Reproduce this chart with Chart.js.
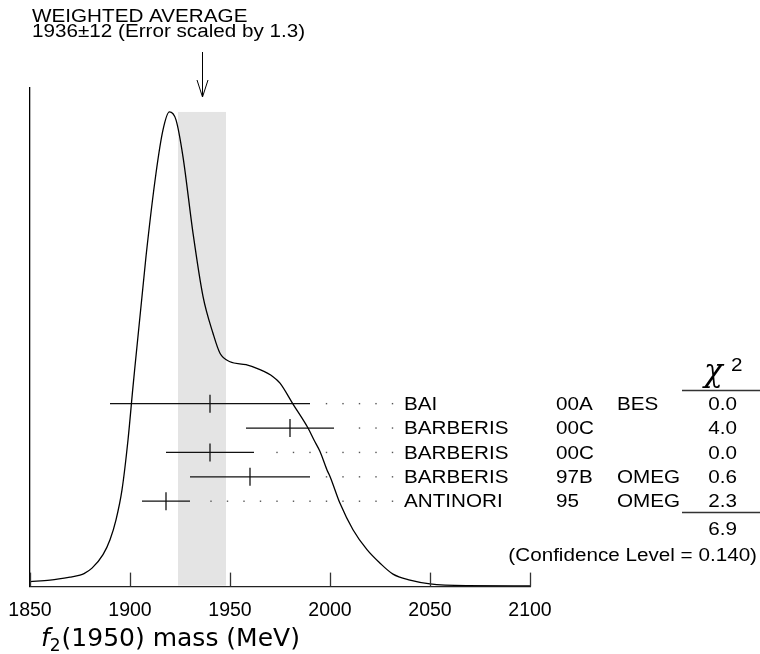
<!DOCTYPE html>
<html>
<head>
<meta charset="utf-8">
<title>f2(1950) mass ideogram</title>
<script src="https://cdn.jsdelivr.net/npm/chart.js@4.4.0/dist/chart.umd.min.js"></script>
<style>
	html, body { margin: 0; padding: 0; background: #fff; }
	#wrap { width: 760px; height: 654px; }
</style>
</head>
<body>
<div id="wrap"><canvas id="ideogram" width="760" height="654"></canvas></div>
<script>
// measurements, top row first
var authors = ['BAI', 'BARBERIS', 'BARBERIS', 'BARBERIS', 'ANTINORI'];
var years = ['00A', '00C', '00C', '97B', '95'];
var experiments = ['BES', '', '', 'OMEG', 'OMEG'];
var masses = [1940, 1980, 1940, 1960, 1918];
var errors = [50, 22, 22, 30, 12];
var chi2Values = ['0.0', '4.0', '0.0', '0.6', '2.3'];
var chi2Total = '6.9';
var confidenceLevel = '0.140';

// weighted average
var average = 1936;
var averageError = 12;
var errorScale = '1.3';

// ideogram curve (arbitrary units, 0..100)
var curveMass = [1850, 1860, 1870, 1875, 1877, 1881, 1886.5, 1890, 1893, 1896, 1899, 1901.5,
	1908, 1913, 1916.5, 1919.7, 1923, 1926.5, 1931.5, 1936.5, 1941.5, 1945, 1950, 1958,
	1965, 1971.5, 1975, 1981.5, 1989, 1992, 1995, 1998.5, 2000, 2005, 2011.5, 2018.5,
	2025, 2031.5, 2040, 2050, 2068, 2100];
var curveValue = [1.0, 1.3, 1.9, 2.3, 2.6, 3.7, 6.4, 9.4, 13.4, 19.4, 29.4, 40.1,
	66.2, 82.9, 91.6, 95.2, 93.6, 86.2, 70.9, 58.2, 50.8, 46.8, 45.1, 44.5,
	43.5, 42.1, 40.8, 36.6, 31.8, 29.4, 27.1, 23.4, 22.1, 16.7, 11.4, 7.4,
	4.7, 2.5, 1.3, 0.55, 0.2, 0.14];

var xTicks = [1850, 1900, 1950, 2000, 2050, 2100];

var FONT = "'Liberation Sans', Arial, Helvetica, sans-serif";
var STRETCH = 1.1;

function rowOf(i) {
	return authors.length - 1 - i;
}

// text in the picture is a bit wider than plain Helvetica
function wideText(ctx, text, x, y, align) {
	ctx.save();
	ctx.translate(x, y);
	ctx.scale(STRETCH, 1);
	ctx.textAlign = align || 'left';
	ctx.fillText(text, 0, 0);
	ctx.restore();
}

function buildDatasets() {
	var sets = [];
	sets.push({
		label: 'ideogram',
		data: curveMass.map(function(m, i) { return { x: m, y: curveValue[i] }; }),
		yAxisID: 'y',
		borderColor: '#000',
		borderWidth: 1.3,
		pointRadius: 0,
		fill: false,
		cubicInterpolationMode: 'monotone'
	});
	masses.forEach(function(m, i) {
		sets.push({
			label: authors[i] + ' ' + years[i],
			data: [{ x: m - errors[i], y: rowOf(i) }, { x: m + errors[i], y: rowOf(i) }],
			yAxisID: 'yRows',
			borderColor: '#111',
			borderWidth: 1.3,
			pointRadius: 0,
			fill: false
		});
	});
	sets.push({
		label: 'centres',
		type: 'scatter',
		data: masses.map(function(m, i) { return { x: m, y: rowOf(i) }; }),
		yAxisID: 'yRows',
		pointStyle: 'line',
		rotation: 90,
		pointRadius: 9,
		borderColor: '#111',
		borderWidth: 1.3,
		backgroundColor: '#111'
	});
	return sets;
}

// grey band of the weighted average, under the curve
var bandPlugin = {
	id: 'band',
	beforeDatasetsDraw: function(chart) {
		var ctx = chart.ctx;
		var xs = chart.scales.x, ys = chart.scales.y;
		var x1 = xs.getPixelForValue(average - averageError);
		var x2 = xs.getPixelForValue(average + averageError);
		var top = ys.getPixelForValue(Math.max.apply(null, curveValue));
		ctx.save();
		ctx.fillStyle = '#e4e4e4';
		ctx.fillRect(x1, top, x2 - x1, chart.chartArea.bottom - 1 - top);
		ctx.restore();
	}
};

var decorPlugin = {
	id: 'decor',
	afterDraw: function(chart) {
		var ctx = chart.ctx;
		var xs = chart.scales.x, rows = chart.scales.yRows;
		var area = chart.chartArea;
		ctx.save();

		// inward ticks
		ctx.strokeStyle = '#333';
		ctx.lineWidth = 1.3;
		xTicks.forEach(function(t) {
			var px = Math.round(xs.getPixelForValue(t)) + 0.5;
			ctx.beginPath();
			ctx.moveTo(px, area.bottom);
			ctx.lineTo(px, area.bottom - 14);
			ctx.stroke();
		});

		// arrow at the average
		var ax = Math.round(xs.getPixelForValue(average)) + 0.5;
		ctx.strokeStyle = '#000';
		ctx.lineWidth = 1;
		ctx.beginPath();
		ctx.moveTo(ax, 52);
		ctx.lineTo(ax, 97);
		ctx.moveTo(ax - 5.5, 80);
		ctx.lineTo(ax, 97);
		ctx.lineTo(ax + 5.5, 80);
		ctx.stroke();

		// header text
		ctx.fillStyle = '#000';
		ctx.textBaseline = 'alphabetic';
		ctx.font = '18.8px ' + FONT;
		wideText(ctx, 'WEIGHTED AVERAGE', 32, 21.5);
		wideText(ctx, average + '\u00b1' + averageError + ' (Error scaled by ' + errorScale + ')', 32, 37);

		// dotted leaders
		ctx.fillStyle = '#555';
		masses.forEach(function(m, i) {
			var y = rows.getPixelForValue(rowOf(i));
			var end = xs.getPixelForValue(m + errors[i]);
			for (var dx = 392.5; dx > end + 10; dx -= 16.5) {
				ctx.fillRect(dx - 0.7, y - 0.7, 1.4, 1.4);
			}
		});

		// table
		ctx.fillStyle = '#000';
		ctx.font = '18.8px ' + FONT;
		ctx.textBaseline = 'middle';
		masses.forEach(function(m, i) {
			var y = rows.getPixelForValue(rowOf(i)) + 1;
			wideText(ctx, authors[i], 404, y);
			wideText(ctx, years[i], 556, y);
			wideText(ctx, experiments[i], 617, y);
			wideText(ctx, chi2Values[i], 737, y, 'right');
		});
		wideText(ctx, chi2Total, 737, 530, 'right');
		wideText(ctx, '(Confidence Level = ' + confidenceLevel + ')', 757, 556, 'right');

		// chi2 header and rules
		ctx.textAlign = 'left';
		ctx.textBaseline = 'alphabetic';
		ctx.font = "italic 31px 'DejaVu Serif', serif";
		ctx.fillText('\u03c7', 704, 381);
		ctx.font = '18.8px ' + FONT;
		wideText(ctx, '2', 731, 371);
		ctx.strokeStyle = '#333';
		ctx.lineWidth = 1.3;
		ctx.beginPath();
		ctx.moveTo(682, 390.5);
		ctx.lineTo(760, 390.5);
		ctx.moveTo(682, 512.5);
		ctx.lineTo(760, 512.5);
		ctx.stroke();

		// axis title: f2(1950) mass (MeV)
		var tx = 41, ty = 646;
		ctx.fillStyle = '#000';
		ctx.font = "italic 25px 'DejaVu Sans', sans-serif";
		ctx.fillText('f', tx, ty);
		tx += ctx.measureText('f').width;
		ctx.font = "17px 'DejaVu Sans', sans-serif";
		ctx.fillText('2', tx, ty + 5);
		tx += ctx.measureText('2').width + 1;
		ctx.font = "25px 'DejaVu Sans', sans-serif";
		ctx.fillText('(1950) mass (MeV)', tx, ty);

		ctx.restore();
	}
};

var ideogram = new Chart(document.getElementById('ideogram').getContext('2d'), {
	type: 'line',
	data: { datasets: buildDatasets() },
	options: {
		responsive: false,
		animation: false,
		devicePixelRatio: 1,
		events: [],
		layout: { padding: { left: 30, right: 230, top: 88, bottom: 20 } },
		plugins: {
			legend: { display: false },
			tooltip: { enabled: false },
			title: { display: false }
		},
		scales: {
			x: {
				type: 'linear',
				min: 1850,
				max: 2100,
				afterBuildTicks: function(scale) {
					scale.ticks = xTicks.map(function(v) { return { value: v }; });
				},
				afterFit: function(scale) {
					// end labels may hang over the axis ends
					scale.paddingLeft = 0;
					scale.paddingRight = 0;
				},
				ticks: {
					color: '#000',
					padding: 12,
					maxRotation: 0,
					font: { family: FONT, size: 19.5 },
					callback: function(value) { return String(value); }
				},
				grid: { display: false, drawTicks: false, tickLength: 0 },
				border: { display: true, color: '#222', width: 1.3 }
			},
			y: {
				type: 'linear',
				min: 0,
				max: 100,
				ticks: { display: false },
				grid: { display: false, drawTicks: false, tickLength: 0 },
				border: { display: true, color: '#000', width: 1.3 }
			},
			yRows: {
				type: 'linear',
				axis: 'y',
				position: 'right',
				min: -3.5,
				max: 16.94,
				display: false
			}
		}
	},
	plugins: [bandPlugin, decorPlugin]
});
</script>
</body>
</html>
